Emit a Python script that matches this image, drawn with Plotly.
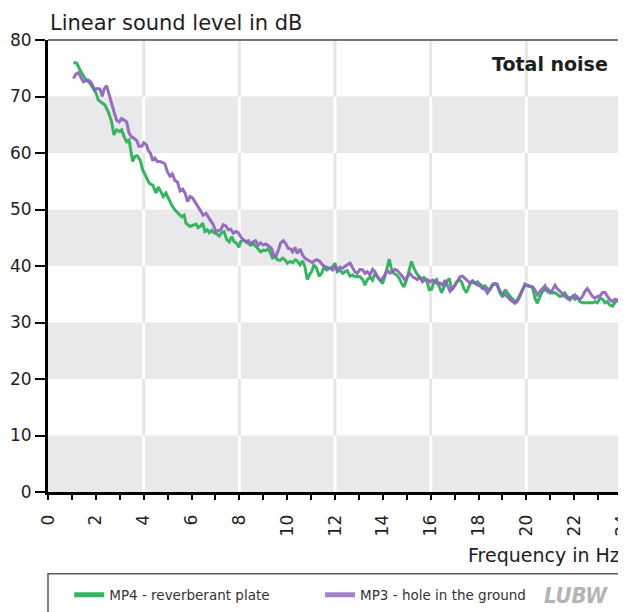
import plotly.graph_objects as go

# ---------------- data ----------------
freq_mp4 = [1.06, 1.20, 1.34, 1.55, 1.76, 1.90, 2.01, 2.10, 2.24, 2.38, 2.52, 2.59, 2.66, 2.76, 2.87, 2.98,
            3.08, 3.18, 3.29, 3.39, 3.46, 3.54, 3.64, 3.73, 3.85, 3.96, 4.10, 4.24, 4.38, 4.52, 4.61, 4.71,
            4.82, 4.93, 5.03, 5.17, 5.31, 5.45, 5.59, 5.69, 5.77, 5.94, 6.08, 6.19, 6.28, 6.38, 6.47, 6.56,
            6.66, 6.74, 6.84, 6.94, 7.05, 7.16, 7.26, 7.36, 7.47, 7.58, 7.68, 7.78, 7.89, 7.98, 8.05, 8.17,
            8.28, 8.38, 8.47, 8.58, 8.68, 8.79, 8.89, 9.00, 9.11, 9.21, 9.31, 9.39, 9.49, 9.59, 9.70, 9.81,
            9.91, 10.01, 10.12, 10.23, 10.33, 10.42, 10.54, 10.65, 10.74, 10.84, 10.93, 11.02, 11.12, 11.23,
            11.34, 11.44, 11.54, 11.65, 11.76, 11.90, 12.00, 12.10, 12.21, 12.32, 12.42, 12.51, 12.63, 12.74,
            12.83, 12.93, 13.04, 13.16, 13.25, 13.35, 13.46, 13.57, 13.67, 13.77, 13.88, 13.99, 14.09, 14.19,
            14.27, 14.37, 14.46, 14.58, 14.69, 14.79, 14.88, 14.99, 15.11, 15.20, 15.30, 15.41, 15.52, 15.62,
            15.72, 15.83, 15.94, 16.04, 16.14, 16.25, 16.36, 16.46, 16.56, 16.67, 16.78, 16.88, 16.97, 17.09,
            17.20, 17.29, 17.39, 17.50, 17.64, 17.75, 17.85, 17.95, 18.06, 18.17, 18.27, 18.37, 18.48, 18.59,
            18.69, 18.78, 18.90, 19.01, 19.11, 19.20, 19.31, 19.43, 19.52, 19.62, 19.73, 19.84, 19.94, 20.04,
            20.15, 20.26, 20.36, 20.46, 20.57, 20.68, 20.78, 20.88, 20.99, 21.10, 21.20, 21.29, 21.40, 21.52,
            21.61, 21.71, 21.82, 21.93, 22.03, 22.13, 22.24, 22.35, 22.45, 22.55, 22.66, 22.77, 22.87, 22.97,
            23.08, 23.19, 23.29, 23.38, 23.49, 23.61, 23.70, 23.80, 23.91, 24.00]
level_mp4 = [76.0, 75.9, 74.7, 73.2, 72.3, 71.4, 70.6, 69.4, 69.0, 68.5, 67.3, 66.4, 65.5, 63.2, 64.1, 63.8,
             64.1, 62.9, 62.0, 62.3, 60.5, 58.5, 59.4, 59.5, 58.8, 57.0, 55.8, 54.6, 54.3, 52.9, 54.0, 53.2,
             52.3, 52.9, 52.0, 50.8, 49.9, 49.2, 48.7, 49.0, 47.6, 47.0, 47.3, 47.4, 46.8, 47.1, 47.6, 46.1,
             46.4, 45.9, 46.3, 45.9, 45.7, 45.3, 45.9, 46.1, 44.7, 44.3, 45.2, 44.3, 44.0, 43.3, 44.3, 44.6,
             44.3, 43.9, 43.7, 44.0, 43.5, 42.8, 42.5, 42.8, 42.7, 43.1, 42.2, 41.4, 41.7, 41.1, 41.0, 41.4,
             41.1, 40.5, 40.8, 40.6, 41.1, 40.9, 40.2, 40.9, 39.9, 37.6, 38.4, 39.0, 40.2, 39.6,
             38.2, 38.7, 39.8, 39.3, 39.6, 39.8, 40.5, 39.0, 39.3, 38.7, 39.0, 39.2, 38.2, 38.4,
             38.1, 38.2, 38.1, 37.6, 36.6, 37.6, 38.0, 37.5, 38.7, 38.1, 37.4, 36.9, 38.2, 39.9,
             41.2, 39.3, 38.7, 38.4, 37.8, 36.9, 36.3, 37.5, 39.6, 40.8, 39.6, 38.7, 38.1, 37.6,
             38.0, 37.5, 35.8, 35.9, 37.2, 37.6, 36.3, 35.3, 36.3, 37.2, 37.8, 35.8, 36.3, 37.2,
             37.6, 37.2, 36.0, 35.3, 36.8, 37.2, 36.9, 37.2, 36.8, 36.3, 36.5, 36.0, 35.9, 36.6,
             36.8, 36.6, 35.2, 34.5, 35.8, 35.2, 34.7, 34.1, 33.7, 34.0, 34.9, 36.0, 36.6, 36.5,
             36.3, 36.2, 34.3, 33.4, 34.6, 35.5, 35.8, 36.0, 35.5, 35.2, 35.3, 34.9, 34.6, 34.7,
             35.2, 34.6, 34.3, 34.6, 34.1, 34.5, 33.7, 33.5, 33.5, 33.5, 33.4, 33.5, 33.7, 33.5,
             34.3, 34.1, 33.5, 33.7, 33.1, 32.9, 33.5, 33.9, 34.1, 34.0]

freq_mp3 = [1.06, 1.17, 1.27, 1.37, 1.48, 1.59, 1.69, 1.78, 1.90, 1.96, 2.06, 2.17, 2.27, 2.35, 2.45, 2.55,
            2.66, 2.76, 2.87, 2.98, 3.08, 3.18, 3.29, 3.39, 3.50, 3.60, 3.71, 3.80, 3.92, 4.01, 4.12, 4.19,
            4.29, 4.38, 4.47, 4.57, 4.68, 4.79, 4.89, 4.99, 5.10, 5.20, 5.31, 5.41, 5.52, 5.63, 5.73, 5.84,
            5.94, 6.05, 6.15, 6.24, 6.38, 6.49, 6.61, 6.70, 6.80, 6.91, 7.02, 7.12, 7.22, 7.33, 7.44, 7.54,
            7.64, 7.75, 7.86, 7.96, 8.05, 8.17, 8.28, 8.38, 8.47, 8.58, 8.68, 8.79, 8.89, 9.00, 9.11, 9.24,
            9.35, 9.45, 9.53, 9.63, 9.73, 9.84, 9.95, 10.05, 10.15, 10.23, 10.33, 10.42, 10.54, 10.65, 10.74,
            10.84, 10.95, 11.06, 11.16, 11.26, 11.37, 11.48, 11.58, 11.68, 11.79, 11.90, 12.00, 12.10, 12.21,
            12.32, 12.42, 12.51, 12.63, 12.74, 12.83, 12.93, 13.04, 13.16, 13.25, 13.35, 13.46, 13.57, 13.67,
            13.77, 13.88, 13.99, 14.09, 14.19, 14.30, 14.41, 14.51, 14.60, 14.72, 14.83, 14.92, 15.02, 15.13,
            15.25, 15.34, 15.44, 15.55, 15.66, 15.76, 15.86, 15.97, 16.08, 16.18, 16.28, 16.39, 16.50, 16.60,
            16.69, 16.81, 16.92, 17.02, 17.11, 17.22, 17.34, 17.43, 17.53, 17.64, 17.75, 17.85, 17.95, 18.06,
            18.17, 18.27, 18.37, 18.48, 18.59, 18.69, 18.78, 18.90, 19.01, 19.11, 19.20, 19.31, 19.43, 19.52,
            19.62, 19.73, 19.84, 19.94, 20.04, 20.15, 20.26, 20.36, 20.46, 20.57, 20.68, 20.78, 20.88, 20.99,
            21.10, 21.20, 21.29, 21.40, 21.52, 21.61, 21.71, 21.82, 21.93, 22.03, 22.13, 22.24, 22.35, 22.45,
            22.55, 22.66, 22.77, 22.87, 22.97, 23.08, 23.19, 23.29, 23.38, 23.49, 23.61, 23.70, 23.80, 23.91,
            24.00]
level_mp3 = [73.2, 74.0, 74.2, 73.5, 72.6, 72.8, 72.9, 72.6, 71.6, 71.2, 71.4, 71.3, 70.0, 71.4, 71.9, 70.3,
             68.8, 67.3, 65.8, 65.5, 66.1, 65.8, 65.5, 63.5, 62.8, 62.6, 62.2, 61.2, 61.2, 61.8, 61.4, 60.5,
             59.9, 58.6, 59.1, 58.5, 58.5, 58.3, 58.1, 56.7, 55.9, 56.3, 55.1, 54.9, 53.3, 53.6, 52.9, 51.4,
             52.3, 52.0, 51.3, 50.5, 49.6, 49.0, 49.3, 48.7, 47.8, 47.3, 46.1, 46.3, 46.4, 47.3, 47.1, 46.4,
             46.5, 45.8, 46.1, 45.9, 45.2, 44.6, 44.3, 44.5, 44.0, 44.3, 44.5, 43.7, 44.1, 43.7, 43.9, 43.5,
             43.1, 41.8, 41.7, 42.8, 44.1, 44.5, 43.9, 43.1, 43.0, 42.5, 43.3, 42.2, 43.0, 41.9, 41.4,
             41.1, 40.8, 40.6, 41.0, 41.1, 40.8, 40.2, 39.9, 39.8, 39.6, 39.3, 39.9, 39.2, 39.8,
             39.6, 40.0, 40.2, 40.5, 39.6, 39.0, 38.7, 39.4, 39.3, 38.7, 39.0, 38.4, 39.4, 39.0,
             38.1, 37.5, 37.8, 38.4, 39.2, 38.7, 39.0, 39.4, 39.2, 38.7, 38.1, 37.5, 38.0, 38.7,
             38.1, 37.8, 37.6, 38.0, 37.2, 37.5, 37.6, 37.2, 37.5, 37.2, 36.9, 37.0, 36.6, 37.5,
             36.5, 35.5, 36.0, 36.6, 37.2, 38.1, 38.2, 37.8, 37.4, 37.0, 37.4, 36.9, 36.6, 36.5,
             36.0, 35.9, 35.2, 35.8, 36.8, 36.9, 36.8, 35.5, 35.2, 34.9, 34.6, 34.1, 33.7, 33.4,
             33.7, 34.6, 35.8, 36.8, 36.6, 36.5, 36.3, 35.8, 34.9, 35.5, 36.0, 36.5, 35.5, 35.2,
             35.8, 36.6, 36.0, 35.6, 35.2, 34.7, 34.3, 34.0, 34.6, 34.9, 34.3, 34.1, 34.6, 35.5,
             36.0, 35.2, 34.6, 34.3, 34.6, 34.7, 35.3, 35.3, 34.6, 34.0, 33.7, 34.1, 34.0, 33.5,
             33.7]

series_names = ["MP4 - reverberant plate", "MP3 - hole in the ground"]
y_ticks = [0, 10, 20, 30, 40, 50, 60, 70, 80]
x_label_ticks = [0, 2, 4, 6, 8, 10, 12, 14, 16, 18, 20, 22, 24]
x_major_ticks = [0, 4, 8, 12, 16, 20, 24]
band_edges = [0, 10, 20, 30, 40, 50, 60, 70, 80]
grid_x = [4, 8, 12, 16, 20]

# ---------------- styles ----------------
FONT = "DejaVu Sans"
GREEN = "#36b462"
PURPLE = "#8e64bb"
PURPLE_LEG = "#a282cc"
BAND = "#e9e9ec"
GRID_ON_WHITE = "#e6e6e6"
TXT = "#1e1e1e"

fig = go.Figure()

fig.add_trace(go.Scatter(x=freq_mp4, y=level_mp4, mode="lines",
                         line=dict(color=GREEN, width=3), showlegend=False, hoverinfo="skip"))
fig.add_trace(go.Scatter(x=freq_mp3, y=level_mp3, mode="lines", opacity=0.92,
                         line=dict(color=PURPLE, width=3), showlegend=False, hoverinfo="skip"))
# legend entries (one legend box per entry, to place them like the reference)
fig.add_trace(go.Scatter(x=[None], y=[None], mode="lines", name=series_names[0],
                         line=dict(color=GREEN, width=5), legend="legend"))
fig.add_trace(go.Scatter(x=[None], y=[None], mode="lines", name=series_names[1],
                         line=dict(color=PURPLE_LEG, width=5), legend="legend2"))

shapes = []
for i in range(len(band_edges) - 1):
    y0, y1 = band_edges[i], band_edges[i + 1]
    gray = (i % 2 == 0)
    if gray:
        shapes.append(dict(type="rect", xref="x", yref="y", x0=0, x1=24, y0=y0, y1=y1,
                           fillcolor=BAND, line=dict(width=0), layer="below"))
    for gx in grid_x:
        shapes.append(dict(type="line", xref="x", yref="y", x0=gx, x1=gx, y0=y0, y1=y1,
                           line=dict(color="white" if gray else GRID_ON_WHITE, width=3),
                           layer="below"))
# top and right frame
shapes.append(dict(type="line", xref="paper", yref="paper", x0=0, x1=1, y0=1, y1=1,
                   line=dict(color="#4a4a4a", width=1.5)))
shapes.append(dict(type="line", xref="paper", yref="paper", x0=1, x1=1, y0=0, y1=1,
                   line=dict(color="#4a4a4a", width=1.5)))
# legend box
shapes.append(dict(type="rect", xref="paper", yref="paper", x0=0, x1=1, y0=-0.30, y1=-0.181,
                   line=dict(color="#5a5a5a", width=1.5), fillcolor="rgba(0,0,0,0)"))

legend_common = dict(orientation="h", xanchor="left", y=-0.228, yanchor="middle",
                     font=dict(family=FONT, size=13.5, color="#333333"),
                     bgcolor="rgba(0,0,0,0)", borderwidth=0)

# the page has an 8 px body margin: the figure is sized/offset so the plot area
# lands at x 48..622, y 40..492 in the 626x612 window
fig.update_layout(
    width=618, height=604,
    margin=dict(l=40, r=4, t=32, b=120, autoexpand=False),
    paper_bgcolor="white", plot_bgcolor="white",
    font=dict(family=FONT, color=TXT),
    shapes=shapes,
    showlegend=True,
    legend=dict(x=0.037, **legend_common),
    legend2=dict(x=0.474, **legend_common),
    xaxis=dict(range=[0, 24], tickmode="array", tickvals=x_label_ticks,
               ticktext=[str(v) for v in x_label_ticks], tickangle=-90,
               ticks="outside", ticklen=5, tickwidth=2, tickcolor="black",
               minor=dict(tickmode="linear", tick0=0, dtick=1, ticks="outside",
                          ticklen=5, tickwidth=2, tickcolor="black", showgrid=False),
               ticklabelstandoff=8, automargin=False, ticklabeloverflow="allow",
               tickfont=dict(family=FONT, size=17, color=TXT),
               showline=True, linecolor="black", linewidth=3,
               showgrid=False, zeroline=False, fixedrange=True),
    xaxis2=dict(range=[0, 24], overlaying="x", anchor="y", side="bottom",
                tickmode="array", tickvals=x_major_ticks, ticks="outside", ticklen=11,
                tickwidth=3, tickcolor="black", showticklabels=False, automargin=False,
                showline=False, showgrid=False, zeroline=False, fixedrange=True),
    yaxis=dict(range=[0, 80], tickmode="array", tickvals=y_ticks,
               ticks="outside", ticklen=10, tickwidth=2, tickcolor="black",
               tickfont=dict(family=FONT, size=17, color=TXT), automargin=False,
               showline=True, linecolor="black", linewidth=3,
               showgrid=False, zeroline=False, fixedrange=True),
    annotations=[
        dict(text="Linear sound level in dB", xref="paper", yref="paper", x=0, y=1,
             xanchor="left", yanchor="bottom", yshift=3, showarrow=False,
             font=dict(family=FONT, size=21, color=TXT)),
        dict(text="<b>Total noise</b>", xref="paper", yref="paper", x=1, y=0.947,
             xanchor="right", yanchor="middle", xshift=-12, showarrow=False,
             font=dict(family=FONT, size=19, color=TXT)),
        dict(text="Frequency in Hz", xref="paper", yref="paper", x=1, y=0,
             xanchor="right", yanchor="top", yshift=-50, showarrow=False,
             font=dict(family=FONT, size=19, color=TXT)),
        dict(text="<b><i>LUBW</i></b>", xref="paper", yref="paper", x=1, y=-0.228,
             xanchor="right", yanchor="middle", xshift=-12, showarrow=False,
             font=dict(family="Liberation Sans Narrow, DejaVu Sans Condensed, Liberation Sans, sans-serif",
                       size=22, color="#b4b4b4")),
    ],
)

fig.write_html("out.html")
